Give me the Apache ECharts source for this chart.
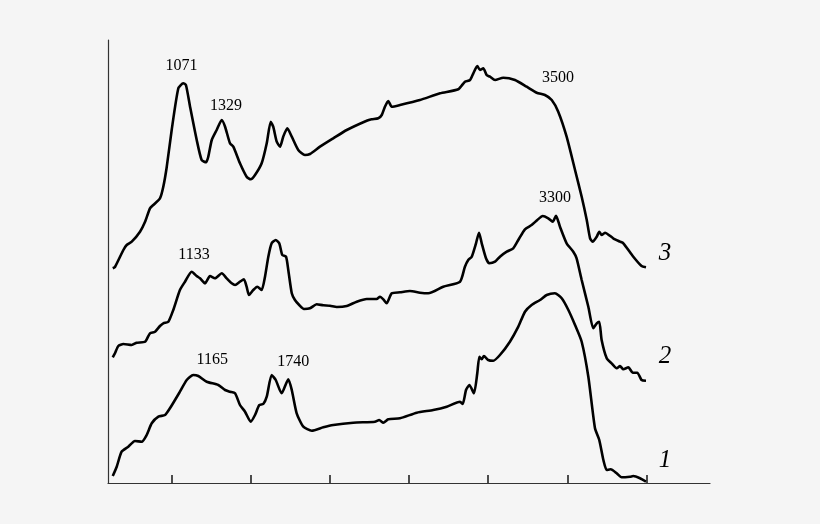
<!DOCTYPE html>
<html>
<head>
<meta charset="utf-8">
<script src="https://cdn.jsdelivr.net/npm/echarts@6/dist/echarts.min.js"></script>
<style>html,body{margin:0;padding:0;background:#f5f5f5;}#c{width:820px;height:524px;}</style>
</head>
<body>
<div id="c"></div>
<script>
// x: wavelength-like units (ticks at 1000..4000 step 500), y: arbitrary intensity
const tickValues = [1000, 1500, 2000, 2500, 3000, 3500, 4000];

const curve3 = [
[630,214.7],[644,216],[697,233],[718,238],[750,241.3],[802,251.3],[834,261.3],[865,274.7],[886,278],[928,284.7],
[949,296.3],[971,316.3],[1002,353],[1044,394.7],[1075,399.7],[1092,398],[1118,376.3],[1160,343],[1191,323],[1219,320.7],
[1233,326.3],[1255,343],[1286,353],[1318,363],[1339,356.3],[1370,339.7],[1391,336.3],[1433,319.7],[1475,306.3],[1501,303.7],
[1528,308],[1570,319.7],[1602,339.7],[1627,361.3],[1643,356.3],[1665,341.3],[1686,336.3],[1706,346.3],[1732,354.7],[1760,346.3],
[1801,333],[1843,328],[1875,329],[1938,336.3],[2022,344.7],[2107,353],[2233,362.3],[2264,363.7],[2306,364.7],[2328,368],
[2348,376.3],[2369,382],[2391,376.3],[2443,378],[2569,383],[2696,389.7],[2811,393.7],[2853,401.3],[2885,403],[2906,409.7],
[2931,417],[2948,413],[2969,414.7],[2990,408],[3011,406.3],[3043,403],[3095,405.3],[3169,403],[3243,396.3],[3306,390.3],
[3358,388],[3401,383],[3442,371.3],[3495,346.3],[3548,313],[3590,286.3],[3622,263],[3643,244.7],[3659,241.3],[3685,246.3],
[3701,251.3],[3716,248],[3737,250.3],[3789,244.7],[3832,241.3],[3853,239.7],[3916,226.3],[3968,217],[3996,215.7]
];

const curve2 = [
[630,125.7],[644,129.7],[665,137],[697,139],[750,138],[781,140.3],[834,141.3],[865,149.7],[897,151.3],[928,157],
[949,159.7],[981,161.3],[1012,173],[1054,193],[1086,201.3],[1128,211.3],[1160,207],[1181,204.7],[1212,199.7],[1244,207],
[1275,204.7],[1318,209.7],[1349,204.7],[1381,199.7],[1402,198],[1433,201.3],[1458,203.7],[1475,196.3],[1490,188],[1517,193],
[1542,196.3],[1570,193],[1591,206.3],[1612,226.3],[1633,239.7],[1659,243],[1681,239.7],[1700,228],[1724,226.3],[1738,213],
[1760,189.7],[1780,183],[1807,178],[1837,174],[1875,174.7],[1917,178.7],[1959,177.7],[2001,177.3],[2044,176],[2107,177],
[2170,181.3],[2233,184],[2296,184],[2317,186.3],[2338,183.7],[2359,179.7],[2391,189.7],[2443,190.7],[2506,192],[2569,190.3],
[2622,189.7],[2716,196.3],[2822,201.3],[2853,216.3],[2874,223],[2896,226.3],[2923,239.7],[2942,250.3],[2959,239.7],[2986,224.7],
[3007,219.7],[3043,221.3],[3074,226.3],[3117,231.3],[3158,234.7],[3190,243],[3232,253.7],[3274,258],[3310,263],[3344,267],
[3379,264.7],[3407,261.3],[3428,267.3],[3453,256.3],[3495,239.7],[3537,231.3],[3558,224.7],[3590,203],[3632,176.3],[3663,154.7],
[3685,159.7],[3701,161.3],[3716,143],[3748,124.7],[3779,119.7],[3811,114.7],[3832,117],[3853,113.7],[3885,115.7],[3912,110.3],
[3941,110.3],[3968,103],[3996,102.3]
];

const curve1 = [
[630,7],[655,16.3],[686,31.3],[728,36.3],[770,42],[813,41.3],[844,48],[876,59.7],[918,66.3],[960,68],
[991,74.7],[1054,91.3],[1097,103],[1138,108],[1170,107],[1223,101.3],[1296,98],[1339,93],[1370,91.3],[1402,89.7],
[1433,78],[1465,71.3],[1501,61.3],[1528,68],[1555,78],[1580,79],[1602,86.3],[1633,108],[1659,103],[1696,89.7],
[1738,103.7],[1760,93],[1791,69.7],[1833,56.3],[1886,52.3],[1959,55.7],[2022,58],[2148,60.3],[2285,61.3],[2312,63],
[2338,60.3],[2369,63.7],[2443,64.7],[2549,70.3],[2653,73],[2738,76.3],[2822,81.3],[2839,79],[2860,93],[2881,98],
[2910,89.7],[2931,109.7],[2944,126.3],[2959,123.7],[2973,127],[3000,123],[3032,122.3],[3074,128],[3137,141.3],[3190,156.3],
[3232,171.3],[3274,178],[3327,183],[3369,188],[3421,189.7],[3464,184.7],[3506,173],[3548,158],[3590,141.3],[3632,106.3],
[3674,54.7],[3701,43],[3727,23],[3748,13],[3773,13.7],[3811,9.7],[3842,5.7],[3895,6.3],[3916,7],[3958,4.7],[3996,1.3]
];

// peak annotations: [text, x, y]
const peakLabels = [
['1071',1064,417],['1329',1345,377],['1133',1143,228],['1165',1258,123.7],
['1740',1770,121.3],['3500',3440,405],['3300',3421,285]
];
// curve numbers: [text, x, y]
const curveLabels = [['3',4116,230],['2',4116,126.3],['1',4116,23]];

const lineStyle = {color:'#000', width:2.6};
function lineSeries(d){
  return {type:'line', data:d, showSymbol:false, symbol:'none', smooth:0.2,
    lineStyle:lineStyle, silent:true, animation:false, z:3};
}

const chart = echarts.init(document.getElementById('c'), null, {renderer:'canvas'});
chart.setOption({
  backgroundColor:'#f5f5f5',
  animation:false,
  grid:{left:108, right:110, top:40, bottom:41, containLabel:false},
  xAxis:{type:'value', min:600, max:4400,
    axisLine:{show:true, lineStyle:{color:'#333', width:1.2}},
    axisTick:{show:true, inside:true, length:8, customValues:tickValues, lineStyle:{color:'#222', width:1.6}},
    axisLabel:{show:false}, splitLine:{show:false}},
  yAxis:{type:'value', min:0, max:443,
    axisLine:{show:true, lineStyle:{color:'#333', width:1.2}},
    axisTick:{show:false}, axisLabel:{show:false}, splitLine:{show:false}},
  series:[
    lineSeries(curve3), lineSeries(curve2), lineSeries(curve1),
    {type:'scatter', symbolSize:0, silent:true, z:4, itemStyle:{opacity:1},
      data:peakLabels.map(p=>({name:p[0], value:[p[1],p[2]]})),
      label:{show:true, position:'inside', formatter:'{b}', color:'#000', opacity:1,
        fontFamily:'Liberation Serif', fontSize:16}},
    {type:'scatter', symbolSize:0, silent:true, z:4, itemStyle:{opacity:1},
      data:curveLabels.map(p=>({name:p[0], value:[p[1],p[2]]})),
      label:{show:true, position:'inside', formatter:'{b}', color:'#000', opacity:1,
        fontFamily:'Liberation Serif', fontStyle:'italic', fontSize:25}}
  ]
});
</script>
</body>
</html>
